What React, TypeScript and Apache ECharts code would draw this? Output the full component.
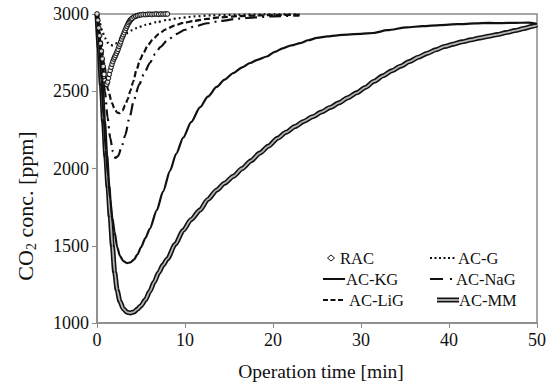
import React, { useEffect, useRef } from "react";
import * as echarts from "echarts";

const FONT = "Liberation Serif, Tinos, Times New Roman, serif";

// Time [min], CO2 [ppm]
const rac: [number, number][] = [
  [0, 3000], [0.1, 2960], [0.2, 2910], [0.3, 2860], [0.4, 2810], [0.5, 2760], [0.6, 2710], [0.7, 2660],
  [0.8, 2610], [0.9, 2570], [1.0, 2548], [1.1, 2545], [1.2, 2560], [1.3, 2585], [1.4, 2610], [1.5, 2635],
  [1.6, 2655], [1.7, 2675], [1.8, 2692], [1.9, 2708], [2.0, 2720], [2.1, 2732], [2.2, 2745], [2.3, 2758],
  [2.4, 2772], [2.5, 2790], [2.6, 2805], [2.7, 2820], [2.8, 2838], [2.9, 2852], [3.0, 2866], [3.1, 2880],
  [3.2, 2894], [3.3, 2908], [3.4, 2921], [3.5, 2933], [3.6, 2944], [3.7, 2953], [3.8, 2961], [3.9, 2967],
  [4.0, 2972], [4.2, 2980], [4.4, 2986], [4.6, 2990], [4.8, 2993], [5.0, 2995], [5.25, 2997], [5.5, 2996],
  [5.75, 2998], [6.0, 2999], [6.25, 2997], [6.5, 2999], [6.75, 3000], [7.0, 2998], [7.25, 3000], [7.5, 2999],
  [7.75, 3000], [8.0, 3000],
];

const acG: [number, number][] = [
  [0, 3000], [0.3, 2945], [0.6, 2890], [0.9, 2845], [1.2, 2815], [1.5, 2800], [1.8, 2797], [2.1, 2808],
  [2.5, 2830], [3.0, 2855], [3.5, 2878], [4.0, 2895], [4.5, 2909], [5.5, 2930], [6.8, 2948], [8.0, 2962],
  [9.4, 2974], [11, 2984], [13, 2991], [16, 2995], [19, 2997], [23, 2998],
];

const acKG: [number, number][] = [
  [0, 3000], [0.25, 2800], [0.5, 2570], [0.75, 2330], [1.0, 2120], [1.25, 1950], [1.5, 1800], [1.75, 1680],
  [2.0, 1590], [2.3, 1490], [2.6, 1435], [3.0, 1400], [3.4, 1388], [3.8, 1392], [4.2, 1410], [4.6, 1445],
  [5.0, 1490], [5.5, 1550], [6.0, 1610], [6.8, 1731], [7.5, 1850], [8.3, 1985], [9.0, 2095], [9.8, 2200],
  [10.7, 2300], [11.7, 2395], [12.6, 2465], [13.6, 2528], [14.5, 2575], [15.5, 2618], [16.5, 2655], [17.4, 2683],
  [18.3, 2705], [19.3, 2725], [20.2, 2755], [21.1, 2778], [22.1, 2797], [23.1, 2812], [24, 2830], [25, 2845],
  [26.2, 2855], [27.3, 2862], [28.5, 2867], [30, 2872], [31.4, 2877], [33, 2895], [35.2, 2914], [37, 2921],
  [39, 2928], [41, 2934], [43, 2939], [44.5, 2942], [46, 2941], [47.5, 2943], [49, 2944], [50, 2935],
];

const acNaG: [number, number][] = [
  [0, 3000], [0.3, 2850], [0.6, 2680], [0.9, 2500], [1.2, 2330], [1.5, 2200], [1.8, 2110], [2.1, 2068],
  [2.4, 2080], [2.8, 2140], [3.2, 2215], [3.7, 2330], [4.2, 2445], [4.8, 2545], [5.4, 2620], [6.0, 2683],
  [6.6, 2740], [7.2, 2786], [8.0, 2830], [9.0, 2870], [10, 2898], [11, 2918], [12.5, 2940], [14, 2955],
  [16, 2970], [18, 2978], [20, 2985], [23, 2990],
];

const acLiG: [number, number][] = [
  [0, 3000], [0.4, 2860], [0.8, 2680], [1.25, 2510], [1.7, 2424], [2.0, 2385], [2.3, 2362], [2.6, 2358],
  [2.9, 2375], [3.2, 2410], [3.5, 2450], [3.8, 2505], [4.1, 2560], [4.5, 2640], [4.9, 2705], [5.3, 2750],
  [5.8, 2800], [6.4, 2840], [7.0, 2870], [7.8, 2900], [8.8, 2925], [9.8, 2942], [11, 2955], [12.5, 2968],
  [14, 2978], [16, 2986], [18, 2990], [20, 2993], [23, 2995],
];

const acMM: [number, number][] = [
  [0, 3000], [0.25, 2780], [0.5, 2540], [0.75, 2300], [1.0, 2080], [1.25, 1880], [1.5, 1690], [1.75, 1500],
  [2.0, 1330], [2.3, 1210], [2.6, 1140], [3.0, 1092], [3.4, 1070], [3.8, 1065], [4.2, 1072], [4.6, 1090],
  [5.0, 1112], [5.5, 1150], [6.0, 1205], [6.5, 1265], [7.0, 1325], [7.5, 1375], [8.0, 1415], [8.9, 1510],
  [9.8, 1600], [10.7, 1670], [11.7, 1731], [12.6, 1800], [13.6, 1860], [14.5, 1905], [15.5, 1950], [16.5, 2000],
  [17.5, 2050], [18.5, 2100], [19.5, 2145], [20.5, 2195], [21.5, 2235], [22.5, 2272], [23.5, 2305], [24.5, 2335],
  [25.5, 2365], [26.5, 2395], [27.5, 2425], [28.5, 2458], [29.5, 2490], [30.5, 2525], [31.5, 2565], [32.5, 2600],
  [33.5, 2632], [34.5, 2662], [35.5, 2692], [36.5, 2720], [37.5, 2745], [38.5, 2768], [39.5, 2790], [40.5, 2805],
  [41.5, 2820], [42.5, 2833], [43.5, 2845], [44.5, 2856], [45.5, 2867], [46.5, 2880], [47.5, 2893], [48.5, 2906],
  [49.5, 2920], [50, 2930],
];

const xTitle = "Operation time [min]";
const yTitleRich = "{a|CO}{s|2}{a| conc. [ppm]}";

const INK = "#111";
const AXIS = "#8a8a8a";

function lineSeries(name: string, data: [number, number][], lineStyle: any, z = 2) {
  return {
    name,
    type: "line",
    data,
    showSymbol: false,
    symbol: "none",
    smooth: 0.25,
    smoothMonotone: "x",
    lineStyle: { color: INK, ...lineStyle },
    z,
  };
}

export default function App() {
  const ref = useRef<HTMLDivElement>(null);
  useEffect(() => {
    const chart = echarts.init(ref.current!, null, { renderer: "svg" });
    const legendText = (x: number, y: number, text: string) => ({
      type: "text",
      x,
      y,
      style: { text, fontSize: 16.5, fontFamily: FONT, fill: INK, align: "left", verticalAlign: "middle" },
    });
    const legendLine = (x1: number, x2: number, y: number, extra: any = {}) => ({
      type: "line",
      shape: { x1, y1: y, x2, y2: y },
      style: { stroke: INK, lineWidth: 2, ...extra },
    });
    const option: any = {
      animation: false,
      backgroundColor: "#fff",
      grid: { left: 97, right: 16, top: 14, bottom: 67, show: true, borderColor: AXIS, borderWidth: 1.5, backgroundColor: "transparent" },
      xAxis: {
        type: "value",
        min: 0,
        max: 50,
        interval: 10,
        axisLine: { show: true, onZero: false, lineStyle: { color: AXIS, width: 1.5 } },
        axisTick: { show: true, inside: false, length: 5, lineStyle: { color: AXIS, width: 1 } },
        axisLabel: { color: INK, fontSize: 18, fontFamily: FONT, margin: 8, formatter: (v: number) => String(v) },
        splitLine: { show: false },
      },
      yAxis: {
        type: "value",
        min: 1000,
        max: 3000,
        interval: 500,
        axisLine: { show: true, onZero: false, lineStyle: { color: AXIS, width: 1.5 } },
        axisTick: { show: true, inside: false, length: 5, lineStyle: { color: AXIS, width: 1 } },
        axisLabel: { color: INK, fontSize: 18, fontFamily: FONT, margin: 8, formatter: (v: number) => String(v) },
        splitLine: { show: false },
      },
      series: [
        lineSeries("AC-MM", acMM, { width: 5 }, 2),
        { ...lineSeries("AC-MM inner", acMM, { width: 1.8, color: "#b4b4b4" }, 3) },
        lineSeries("AC-KG", acKG, { width: 2.2 }, 4),
        lineSeries("AC-LiG", acLiG, { width: 2.2, type: [6, 3] }, 4),
        lineSeries("AC-NaG", acNaG, { width: 2.2, type: [12, 5, 2, 5] }, 4),
        lineSeries("AC-G", acG, { width: 2.2, type: [2, 3] }, 4),
        {
          name: "RAC",
          type: "scatter",
          data: rac,
          symbol: "circle",
          symbolSize: 4.5,
          itemStyle: { color: "#fff", borderColor: "#000", borderWidth: 1.2 },
          z: 6,
        },
      ],
      graphic: [
        {
          type: "text",
          x: 321,
          y: 371,
          style: { text: xTitle, fontSize: 19.5, fontFamily: FONT, fill: INK, align: "center", verticalAlign: "middle" },
        },
        {
          type: "text",
          x: 25,
          y: 206,
          rotation: Math.PI / 2,
          style: {
            text: yTitleRich,
            align: "center",
            verticalAlign: "middle",
            rich: {
              a: { fontSize: 22, fontFamily: FONT, fill: INK, lineHeight: 26, verticalAlign: "middle" },
              s: { fontSize: 14, fontFamily: FONT, fill: INK, lineHeight: 14, verticalAlign: "bottom" },
            },
          },
        },
        // legend column 1
        {
          type: "polygon",
          shape: { points: [[331, 255], [334.5, 258], [331, 261], [327.5, 258]] },
          style: { fill: "#fff", stroke: INK, lineWidth: 1 },
        },
        legendText(340, 258, "RAC"),
        legendLine(323, 345, 279),
        legendText(346, 279, "AC-KG"),
        legendLine(323, 344, 300, { lineDash: [5, 2.5] }),
        legendText(349, 300, "AC-LiG"),
        // legend column 2
        legendLine(430, 457, 258, { lineDash: [2, 2.5] }),
        legendText(458, 258, "AC-G"),
        legendLine(430, 455, 279, { lineDash: [13, 7, 2, 10] }),
        legendText(456, 279, "AC-NaG"),
        legendLine(437, 459, 300, { lineWidth: 5 }),
        legendLine(437, 459, 300, { lineWidth: 1.8, stroke: "#b4b4b4" }),
        legendText(459, 300, "AC-MM"),
      ],
    };
    chart.setOption(option);
    return () => chart.dispose();
  }, []);
  return <div ref={ref} style={{ position: "fixed", left: 0, top: 0, width: 553, height: 390 }} />;
}
